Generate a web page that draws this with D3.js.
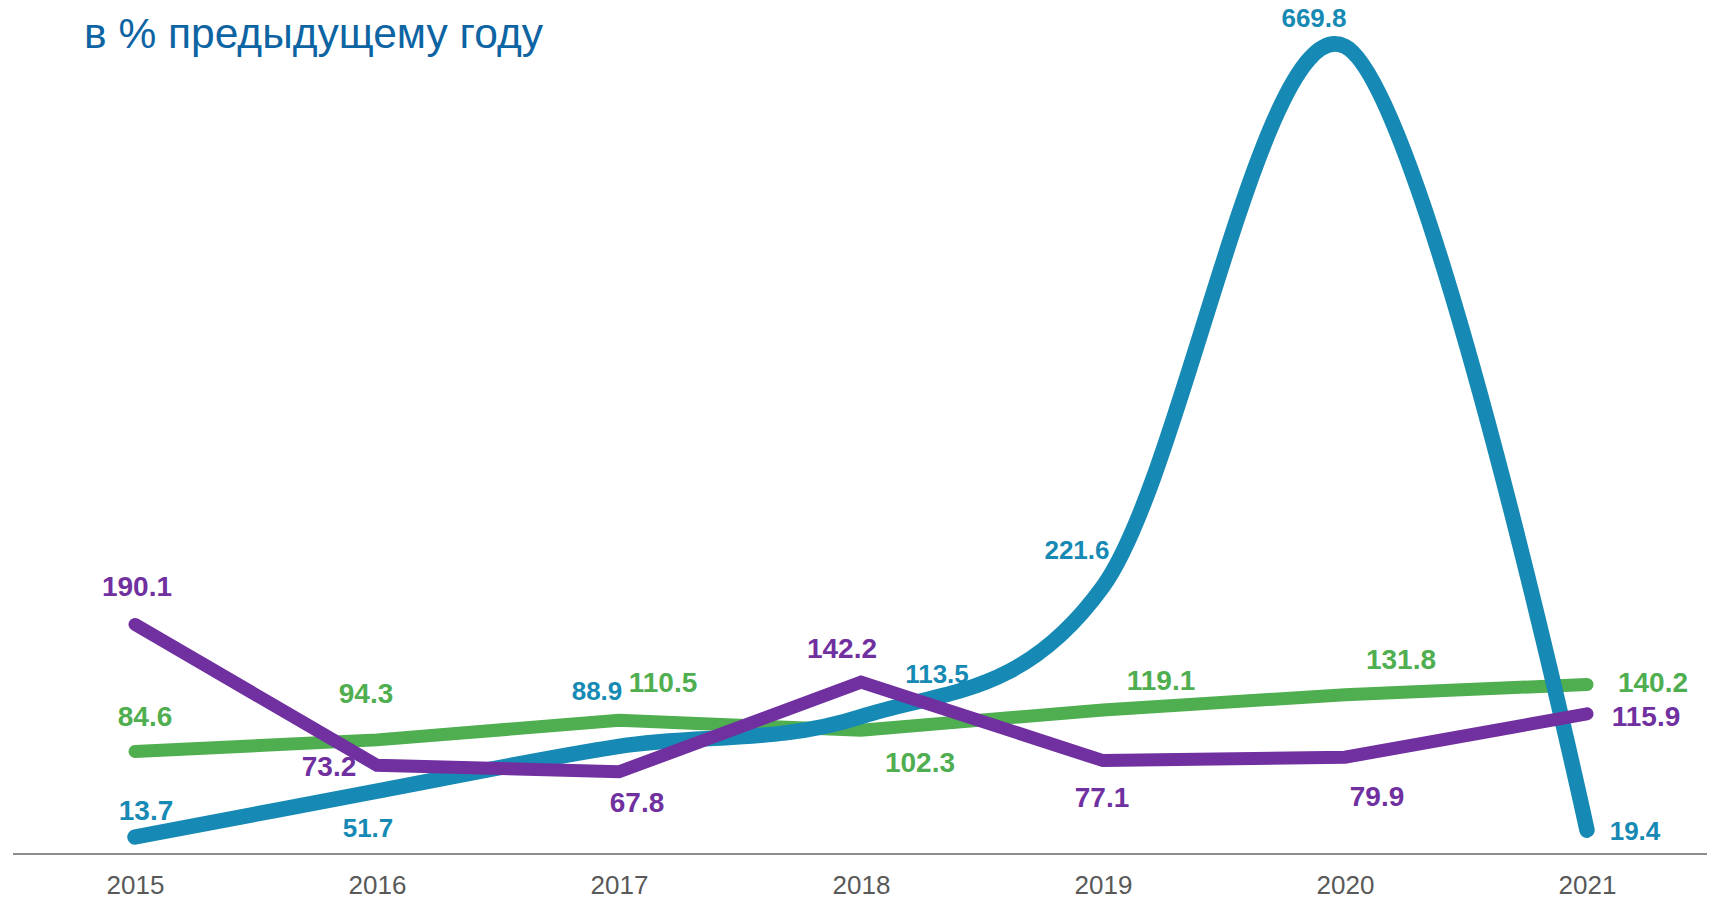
<!DOCTYPE html>
<html>
<head>
<meta charset="utf-8">
<script src="https://cdn.jsdelivr.net/npm/d3@7"></script>
<style>
  html, body { margin: 0; padding: 0; background: #ffffff; }
  svg { display: block; }
</style>
</head>
<body>
<svg id="chart" width="1718" height="902"></svg>
<script>
// ---- data ----
const years = ["2015", "2016", "2017", "2018", "2019", "2020", "2021"];
const blueValues = [13.7, 51.7, 88.9, 113.5, 221.6, 669.8, 19.4];
const greenValues = [84.6, 94.3, 110.5, 102.3, 119.1, 131.8, 140.2];
const purpleValues = [190.1, 73.2, 67.8, 142.2, 77.1, 79.9, 115.9];
const titleText = "в % предыдущему году";

// ---- label placement (pixel offsets from each point: [dx, dy]) ----
const blueLabelOffsets = [[11, -17], [-9, 46], [-22, -46], [76, -34], [-26, -27], [-31, -19], [48, 10]];
const greenLabelOffsets = [[10, -26], [-11, -37], [44, -28], [59, 42], [58, -20], [56, -26], [66, 7]];
const purpleLabelOffsets = [[2, -28], [-48, 11], [18, 40], [-19, -24], [-1, 46], [32, 49], [59, 12]];

const series = [
  { name: "green", values: greenValues, color: "#4fae4f", width: 13, curve: d3.curveLinear, offsets: greenLabelOffsets, fontSize: 28 },
  { name: "blue", values: blueValues, color: "#168ab4", width: 15.5, curve: d3.curveCardinal.tension(0), offsets: blueLabelOffsets, fontSize: 26 },
  { name: "purple", values: purpleValues, color: "#7030a0", width: 13, curve: d3.curveLinear, offsets: purpleLabelOffsets, fontSize: 28 }
];

const svg = d3.select("#chart");

const x = d3.scalePoint().domain(years).range([135, 1587]);
const y = d3.scaleLinear().domain([0, 700]).range([853.5, 10]);

// title
svg.append("text")
  .attr("x", 84)
  .attr("y", 48)
  .attr("font-family", "'Liberation Sans', Arial, sans-serif")
  .attr("font-size", 42.5)
  .attr("fill", "#0d64a3")
  .text(titleText);

// x axis
const xAxis = d3.axisBottom(x).tickSize(0).tickPadding(0);
const axisG = svg.append("g")
  .attr("transform", "translate(0,854)")
  .call(xAxis);
axisG.select(".domain").remove();
axisG.append("line")
  .attr("x1", 13).attr("x2", 1707)
  .attr("y1", 0).attr("y2", 0)
  .attr("stroke", "#8c8c8c")
  .attr("stroke-width", 2);
axisG.selectAll(".tick text")
  .attr("y", 40)
  .attr("dy", null)
  .attr("font-family", "'Liberation Sans', Arial, sans-serif")
  .attr("font-size", 26)
  .attr("fill", "#595959");

// lines
series.forEach(s => {
  const line = d3.line()
    .x((d, i) => x(years[i]))
    .y(d => y(d))
    .curve(s.curve);
  svg.append("path")
    .datum(s.values)
    .attr("d", line)
    .attr("fill", "none")
    .attr("stroke", s.color)
    .attr("stroke-width", s.width)
    .attr("stroke-linecap", "round")
    .attr("stroke-linejoin", "miter");
});

// labels
series.forEach(s => {
  svg.append("g")
    .selectAll("text")
    .data(s.values)
    .join("text")
    .attr("x", (d, i) => x(years[i]) + s.offsets[i][0])
    .attr("y", (d, i) => y(d) + s.offsets[i][1])
    .attr("text-anchor", "middle")
    .attr("font-family", "'Liberation Sans', Arial, sans-serif")
    .attr("font-weight", "bold")
    .attr("font-size", (d, i) => (s.name === "blue" && i === 0) ? 28 : s.fontSize)
    .attr("fill", s.color)
    .text(d => d3.format(".1f")(d));
});
</script>
</body>
</html>
